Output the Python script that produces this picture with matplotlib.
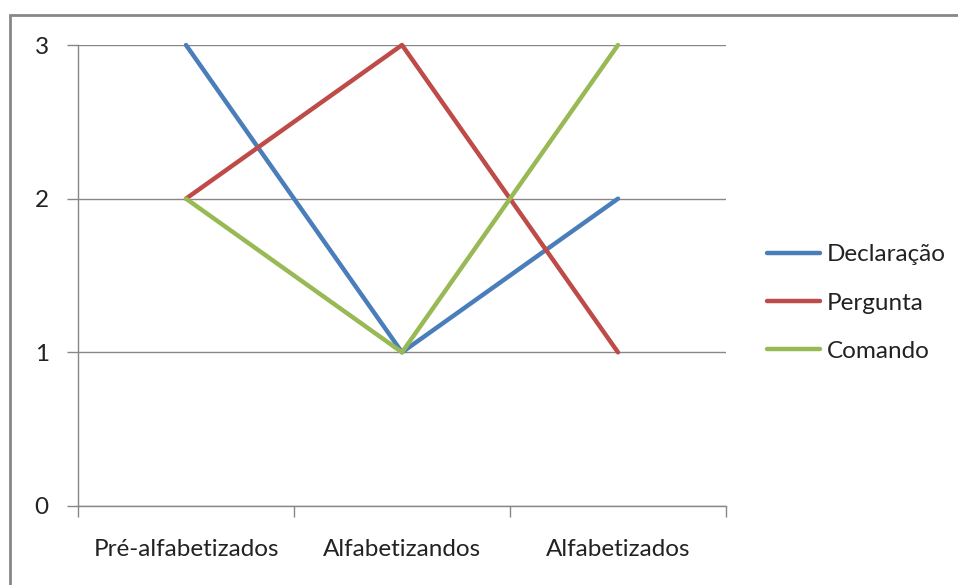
import matplotlib.pyplot as plt
from matplotlib.patches import Rectangle

categories = ['Pré-alfabetizados', 'Alfabetizandos', 'Alfabetizados']
declaracao = [3, 1, 2]
pergunta = [2, 3, 1]
comando = [2, 1, 3]

series = [('Declaração', declaracao, '#4A7EBB'),
          ('Pergunta', pergunta, '#BE4B48'),
          ('Comando', comando, '#98B954')]

plt.rcParams['font.family'] = ['Lato', 'DejaVu Sans']
W, H = 958, 585
FS = 17.5
fig = plt.figure(figsize=(W / 100, H / 100), dpi=100)

# outer chart frame (runs off the right/bottom edge)
fig.patches.append(Rectangle((10 / W, -0.05), 1.1, 1 - 15 / H + 0.05,
                             transform=fig.transFigure, fill=False,
                             edgecolor='#878787', linewidth=2))

ax = fig.add_axes([78 / W, 1 - 506 / H, (726 - 78) / W, (506 - 45) / H])
xs = [i + 0.5 for i in range(len(categories))]
for name, vals, color in series:
    ax.plot(xs, vals, color=color, linewidth=3.2, label=name,
            clip_on=False, solid_capstyle='round')

ax.set_xlim(0, 3)
ax.set_ylim(0, 3)
ax.set_yticks([0, 1, 2, 3])
ax.set_xticks([0, 1, 2, 3])
ax.set_xticklabels([])
ax.set_xticks(xs, minor=True)
ax.set_xticklabels(categories, minor=True)
ax.tick_params(axis='x', which='minor', length=0, pad=23.5, labelsize=FS, colors='#222222')
ax.tick_params(axis='x', which='major', length=8, color='#878787', width=1)
ax.tick_params(axis='y', length=8, color='#878787', width=1, pad=13,
               labelsize=FS, labelcolor='#222222')
ax.grid(axis='y', color='#878787', linewidth=1)
ax.set_axisbelow(True)
for s in ['top', 'right']:
    ax.spines[s].set_visible(False)
for s in ['left', 'bottom']:
    ax.spines[s].set_color('#878787')
    ax.spines[s].set_linewidth(1)

leg = ax.legend(loc='center left', bbox_to_anchor=(767 / W, 1 - 303 / H),
                bbox_transform=fig.transFigure, frameon=False, fontsize=FS,
                handlelength=2.2, handletextpad=0.25, labelspacing=1.12,
                borderaxespad=0, borderpad=0)
for t in leg.get_texts():
    t.set_color('#222222')

fig.savefig('out.png', dpi=100)
